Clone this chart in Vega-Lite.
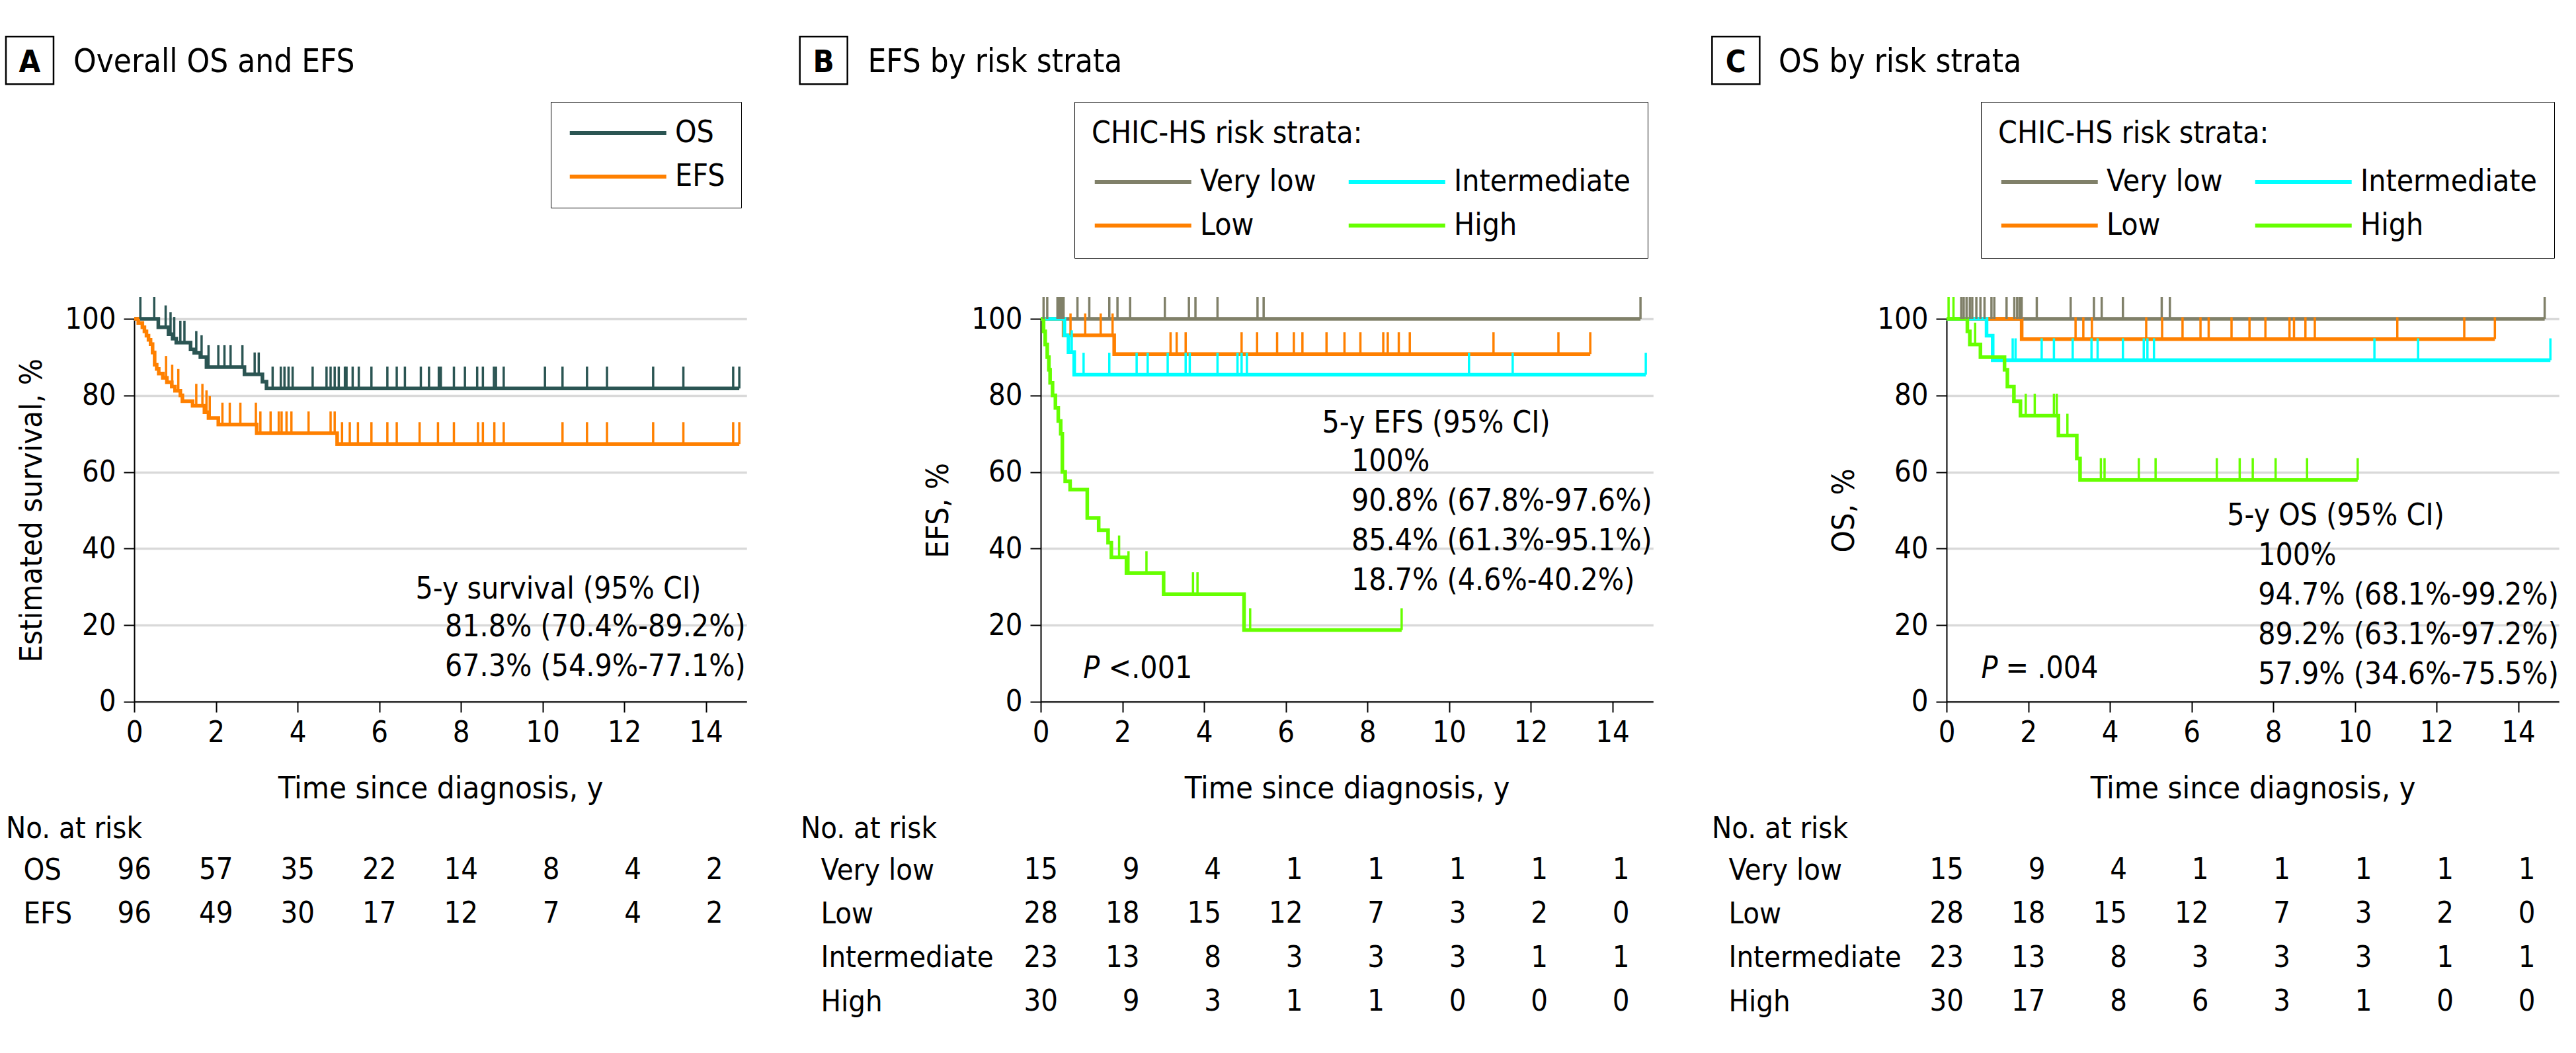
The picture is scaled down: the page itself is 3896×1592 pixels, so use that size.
{
  "$schema": "https://vega.github.io/schema/vega-lite/v6.json",
  "background": "white",
  "padding": {"left": 3, "top": 50, "right": 0, "bottom": 0},
  "autosize": {"type": "pad"},
  "datasets": {
    "A_curve": [
      {"series":"OS","t":0,"s":100},{"series":"OS","t":0.59,"s":97.8},{"series":"OS","t":0.84,"s":96.0},{"series":"OS","t":0.94,"s":94.8},{"series":"OS","t":1.03,"s":93.8},{"series":"OS","t":1.38,"s":92.0},{"series":"OS","t":1.47,"s":91.1},{"series":"OS","t":1.62,"s":90.0},{"series":"OS","t":1.77,"s":87.4},{"series":"OS","t":2.70,"s":85.5},{"series":"OS","t":3.14,"s":83.6},{"series":"OS","t":3.24,"s":81.8},{"series":"OS","t":14.82,"s":81.8},
      {"series":"EFS","t":0,"s":100},{"series":"EFS","t":0.1,"s":98.9},{"series":"EFS","t":0.2,"s":97.8},{"series":"EFS","t":0.25,"s":96.7},{"series":"EFS","t":0.3,"s":95.6},{"series":"EFS","t":0.35,"s":94.5},{"series":"EFS","t":0.4,"s":93.4},{"series":"EFS","t":0.45,"s":91.2},{"series":"EFS","t":0.5,"s":88.0},{"series":"EFS","t":0.55,"s":86.9},{"series":"EFS","t":0.6,"s":85.7},{"series":"EFS","t":0.7,"s":84.6},{"series":"EFS","t":0.8,"s":83.4},{"series":"EFS","t":0.92,"s":82.3},{"series":"EFS","t":1.0,"s":81.2},{"series":"EFS","t":1.13,"s":80.0},{"series":"EFS","t":1.18,"s":78.5},{"series":"EFS","t":1.43,"s":77.3},{"series":"EFS","t":1.72,"s":75.6},{"series":"EFS","t":1.82,"s":74.1},{"series":"EFS","t":2.06,"s":72.4},{"series":"EFS","t":3.0,"s":70.1},{"series":"EFS","t":4.97,"s":67.3},{"series":"EFS","t":14.82,"s":67.3}
    ],
    "A_cens": [
      {"series":"OS","t":0.15,"s":100},{"series":"OS","t":0.49,"s":100},{"series":"OS","t":0.77,"s":97.8},{"series":"OS","t":0.89,"s":96.0},{"series":"OS","t":0.98,"s":94.8},{"series":"OS","t":1.13,"s":93.8},{"series":"OS","t":1.23,"s":93.8},{"series":"OS","t":1.52,"s":91.1},{"series":"OS","t":1.65,"s":90.0},{"series":"OS","t":1.82,"s":87.4},{"series":"OS","t":2.06,"s":87.4},{"series":"OS","t":2.21,"s":87.4},{"series":"OS","t":2.36,"s":87.4},{"series":"OS","t":2.65,"s":87.4},{"series":"OS","t":2.95,"s":85.5},{"series":"OS","t":3.05,"s":85.5},
      {"series":"OS","t":3.39,"s":81.8},{"series":"OS","t":3.59,"s":81.8},{"series":"OS","t":3.68,"s":81.8},{"series":"OS","t":3.78,"s":81.8},{"series":"OS","t":3.88,"s":81.8},{"series":"OS","t":4.37,"s":81.8},{"series":"OS","t":4.71,"s":81.8},{"series":"OS","t":4.81,"s":81.8},{"series":"OS","t":4.91,"s":81.8},{"series":"OS","t":5.01,"s":81.8},{"series":"OS","t":5.16,"s":81.8},{"series":"OS","t":5.2,"s":81.8},{"series":"OS","t":5.35,"s":81.8},{"series":"OS","t":5.5,"s":81.8},{"series":"OS","t":5.81,"s":81.8},{"series":"OS","t":6.2,"s":81.8},{"series":"OS","t":6.43,"s":81.8},{"series":"OS","t":6.63,"s":81.8},{"series":"OS","t":7.02,"s":81.8},{"series":"OS","t":7.22,"s":81.8},{"series":"OS","t":7.46,"s":81.8},{"series":"OS","t":7.51,"s":81.8},{"series":"OS","t":7.83,"s":81.8},{"series":"OS","t":8.1,"s":81.8},{"series":"OS","t":8.4,"s":81.8},{"series":"OS","t":8.54,"s":81.8},{"series":"OS","t":8.81,"s":81.8},{"series":"OS","t":8.86,"s":81.8},{"series":"OS","t":9.05,"s":81.8},{"series":"OS","t":10.06,"s":81.8},{"series":"OS","t":10.49,"s":81.8},{"series":"OS","t":11.09,"s":81.8},{"series":"OS","t":11.58,"s":81.8},{"series":"OS","t":12.71,"s":81.8},{"series":"OS","t":13.45,"s":81.8},{"series":"OS","t":14.67,"s":81.8},{"series":"OS","t":14.82,"s":81.8},
      {"series":"EFS","t":0.78,"s":84.6},{"series":"EFS","t":0.93,"s":82.3},{"series":"EFS","t":1.08,"s":81.2},{"series":"EFS","t":1.52,"s":77.3},{"series":"EFS","t":1.67,"s":77.3},{"series":"EFS","t":1.77,"s":75.6},{"series":"EFS","t":1.85,"s":74.1},{"series":"EFS","t":2.16,"s":72.4},{"series":"EFS","t":2.34,"s":72.4},{"series":"EFS","t":2.6,"s":72.4},{"series":"EFS","t":2.98,"s":72.4},{"series":"EFS","t":3.09,"s":70.1},{"series":"EFS","t":3.34,"s":70.1},{"series":"EFS","t":3.54,"s":70.1},{"series":"EFS","t":3.61,"s":70.1},{"series":"EFS","t":3.73,"s":70.1},{"series":"EFS","t":3.85,"s":70.1},{"series":"EFS","t":4.27,"s":70.1},{"series":"EFS","t":4.81,"s":70.1},{"series":"EFS","t":4.91,"s":70.1},
      {"series":"EFS","t":5.09,"s":67.3},{"series":"EFS","t":5.28,"s":67.3},{"series":"EFS","t":5.48,"s":67.3},{"series":"EFS","t":5.81,"s":67.3},{"series":"EFS","t":6.2,"s":67.3},{"series":"EFS","t":6.43,"s":67.3},{"series":"EFS","t":6.99,"s":67.3},{"series":"EFS","t":7.44,"s":67.3},{"series":"EFS","t":7.83,"s":67.3},{"series":"EFS","t":8.42,"s":67.3},{"series":"EFS","t":8.54,"s":67.3},{"series":"EFS","t":8.82,"s":67.3},{"series":"EFS","t":9.05,"s":67.3},{"series":"EFS","t":10.49,"s":67.3},{"series":"EFS","t":11.09,"s":67.3},{"series":"EFS","t":11.58,"s":67.3},{"series":"EFS","t":12.71,"s":67.3},{"series":"EFS","t":13.45,"s":67.3},{"series":"EFS","t":14.67,"s":67.3},{"series":"EFS","t":14.82,"s":67.3}
    ],
    "B_curve": [
      {"stratum":"Very low","t":0,"s":100},{"stratum":"Very low","t":14.69,"s":100},
      {"stratum":"Low","t":0,"s":100},{"stratum":"Low","t":0.56,"s":95.7},{"stratum":"Low","t":1.8,"s":90.8},{"stratum":"Low","t":13.46,"s":90.8},
      {"stratum":"Intermediate","t":0,"s":100},{"stratum":"Intermediate","t":0.58,"s":95.7},{"stratum":"Intermediate","t":0.68,"s":91.3},{"stratum":"Intermediate","t":0.82,"s":85.4},{"stratum":"Intermediate","t":14.82,"s":85.4},
      {"stratum":"High","t":0,"s":100},{"stratum":"High","t":0.07,"s":96.7},{"stratum":"High","t":0.11,"s":93.3},{"stratum":"High","t":0.16,"s":90.0},{"stratum":"High","t":0.2,"s":86.7},{"stratum":"High","t":0.23,"s":83.3},{"stratum":"High","t":0.29,"s":80.0},{"stratum":"High","t":0.36,"s":76.7},{"stratum":"High","t":0.43,"s":73.3},{"stratum":"High","t":0.49,"s":70.0},{"stratum":"High","t":0.53,"s":60.0},{"stratum":"High","t":0.6,"s":57.6},{"stratum":"High","t":0.72,"s":55.4},{"stratum":"High","t":1.14,"s":48.0},{"stratum":"High","t":1.42,"s":44.8},{"stratum":"High","t":1.65,"s":41.5},{"stratum":"High","t":1.73,"s":37.7},{"stratum":"High","t":2.1,"s":33.6},{"stratum":"High","t":3.01,"s":28.1},{"stratum":"High","t":4.98,"s":18.7},{"stratum":"High","t":8.84,"s":18.7}
    ],
    "B_cens": [
      {"stratum":"Very low","t":0.07,"s":100},{"stratum":"Very low","t":0.16,"s":100},{"stratum":"Very low","t":0.41,"s":100},{"stratum":"Very low","t":0.46,"s":100},{"stratum":"Very low","t":0.51,"s":100},{"stratum":"Very low","t":0.56,"s":100},{"stratum":"Very low","t":0.9,"s":100},{"stratum":"Very low","t":1.19,"s":100},{"stratum":"Very low","t":1.68,"s":100},{"stratum":"Very low","t":1.88,"s":100},{"stratum":"Very low","t":2.19,"s":100},{"stratum":"Very low","t":3.04,"s":100},{"stratum":"Very low","t":3.63,"s":100},{"stratum":"Very low","t":3.79,"s":100},{"stratum":"Very low","t":4.33,"s":100},{"stratum":"Very low","t":5.31,"s":100},{"stratum":"Very low","t":5.46,"s":100},{"stratum":"Very low","t":14.69,"s":100},
      {"stratum":"Low","t":0.73,"s":95.7},{"stratum":"Low","t":1.09,"s":95.7},{"stratum":"Low","t":1.47,"s":95.7},{"stratum":"Low","t":1.76,"s":95.7},{"stratum":"Low","t":3.18,"s":90.8},{"stratum":"Low","t":3.33,"s":90.8},{"stratum":"Low","t":3.55,"s":90.8},{"stratum":"Low","t":4.92,"s":90.8},{"stratum":"Low","t":5.3,"s":90.8},{"stratum":"Low","t":5.79,"s":90.8},{"stratum":"Low","t":6.2,"s":90.8},{"stratum":"Low","t":6.41,"s":90.8},{"stratum":"Low","t":7.0,"s":90.8},{"stratum":"Low","t":7.44,"s":90.8},{"stratum":"Low","t":7.83,"s":90.8},{"stratum":"Low","t":8.39,"s":90.8},{"stratum":"Low","t":8.5,"s":90.8},{"stratum":"Low","t":8.77,"s":90.8},{"stratum":"Low","t":9.04,"s":90.8},{"stratum":"Low","t":11.09,"s":90.8},{"stratum":"Low","t":12.68,"s":90.8},{"stratum":"Low","t":13.46,"s":90.8},
      {"stratum":"Intermediate","t":0.76,"s":91.3},{"stratum":"Intermediate","t":1.05,"s":85.4},{"stratum":"Intermediate","t":1.68,"s":85.4},{"stratum":"Intermediate","t":2.35,"s":85.4},{"stratum":"Intermediate","t":2.62,"s":85.4},{"stratum":"Intermediate","t":3.11,"s":85.4},{"stratum":"Intermediate","t":3.55,"s":85.4},{"stratum":"Intermediate","t":3.65,"s":85.4},{"stratum":"Intermediate","t":4.33,"s":85.4},{"stratum":"Intermediate","t":4.82,"s":85.4},{"stratum":"Intermediate","t":4.92,"s":85.4},{"stratum":"Intermediate","t":5.05,"s":85.4},{"stratum":"Intermediate","t":10.49,"s":85.4},{"stratum":"Intermediate","t":11.56,"s":85.4},{"stratum":"Intermediate","t":14.82,"s":85.4},
      {"stratum":"High","t":1.92,"s":37.7},{"stratum":"High","t":2.15,"s":33.6},{"stratum":"High","t":2.59,"s":33.6},{"stratum":"High","t":3.73,"s":28.1},{"stratum":"High","t":3.84,"s":28.1},{"stratum":"High","t":5.13,"s":18.7},{"stratum":"High","t":8.84,"s":18.7}
    ],
    "C_curve": [
      {"stratum":"Very low","t":0,"s":100},{"stratum":"Very low","t":14.65,"s":100},
      {"stratum":"Low","t":0,"s":100},{"stratum":"Low","t":1.84,"s":94.7},{"stratum":"Low","t":13.43,"s":94.7},
      {"stratum":"Intermediate","t":0,"s":100},{"stratum":"Intermediate","t":0.98,"s":95.6},{"stratum":"Intermediate","t":1.13,"s":89.2},{"stratum":"Intermediate","t":14.79,"s":89.2},
      {"stratum":"High","t":0,"s":100},{"stratum":"High","t":0.51,"s":96.7},{"stratum":"High","t":0.57,"s":93.3},{"stratum":"High","t":0.83,"s":90.0},{"stratum":"High","t":1.42,"s":86.7},{"stratum":"High","t":1.49,"s":82.3},{"stratum":"High","t":1.65,"s":78.5},{"stratum":"High","t":1.81,"s":74.7},{"stratum":"High","t":2.74,"s":69.5},{"stratum":"High","t":3.19,"s":63.5},{"stratum":"High","t":3.27,"s":57.9},{"stratum":"High","t":10.07,"s":57.9}
    ],
    "C_cens": [
      {"stratum":"Very low","t":0.36,"s":100},{"stratum":"Very low","t":0.42,"s":100},{"stratum":"Very low","t":0.49,"s":100},{"stratum":"Very low","t":0.57,"s":100},{"stratum":"Very low","t":0.63,"s":100},{"stratum":"Very low","t":0.73,"s":100},{"stratum":"Very low","t":0.83,"s":100},{"stratum":"Very low","t":0.93,"s":100},{"stratum":"Very low","t":1.1,"s":100},{"stratum":"Very low","t":1.17,"s":100},{"stratum":"Very low","t":1.47,"s":100},{"stratum":"Very low","t":1.66,"s":100},{"stratum":"Very low","t":1.73,"s":100},{"stratum":"Very low","t":1.79,"s":100},{"stratum":"Very low","t":1.84,"s":100},{"stratum":"Very low","t":2.21,"s":100},{"stratum":"Very low","t":3.04,"s":100},{"stratum":"Very low","t":3.61,"s":100},{"stratum":"Very low","t":3.8,"s":100},{"stratum":"Very low","t":4.32,"s":100},{"stratum":"Very low","t":5.27,"s":100},{"stratum":"Very low","t":5.47,"s":100},{"stratum":"Very low","t":14.65,"s":100},
      {"stratum":"Low","t":3.16,"s":94.7},{"stratum":"Low","t":3.35,"s":94.7},{"stratum":"Low","t":3.56,"s":94.7},{"stratum":"Low","t":4.89,"s":94.7},{"stratum":"Low","t":5.28,"s":94.7},{"stratum":"Low","t":5.78,"s":94.7},{"stratum":"Low","t":6.22,"s":94.7},{"stratum":"Low","t":6.42,"s":94.7},{"stratum":"Low","t":6.98,"s":94.7},{"stratum":"Low","t":7.42,"s":94.7},{"stratum":"Low","t":7.81,"s":94.7},{"stratum":"Low","t":8.4,"s":94.7},{"stratum":"Low","t":8.51,"s":94.7},{"stratum":"Low","t":8.79,"s":94.7},{"stratum":"Low","t":9.02,"s":94.7},{"stratum":"Low","t":11.04,"s":94.7},{"stratum":"Low","t":12.68,"s":94.7},{"stratum":"Low","t":13.43,"s":94.7},
      {"stratum":"Intermediate","t":1.62,"s":89.2},{"stratum":"Intermediate","t":1.69,"s":89.2},{"stratum":"Intermediate","t":2.33,"s":89.2},{"stratum":"Intermediate","t":2.63,"s":89.2},{"stratum":"Intermediate","t":3.09,"s":89.2},{"stratum":"Intermediate","t":3.55,"s":89.2},{"stratum":"Intermediate","t":3.7,"s":89.2},{"stratum":"Intermediate","t":4.32,"s":89.2},{"stratum":"Intermediate","t":4.83,"s":89.2},{"stratum":"Intermediate","t":4.92,"s":89.2},{"stratum":"Intermediate","t":5.08,"s":89.2},{"stratum":"Intermediate","t":10.48,"s":89.2},{"stratum":"Intermediate","t":11.55,"s":89.2},{"stratum":"Intermediate","t":14.79,"s":89.2},
      {"stratum":"High","t":0.05,"s":100},{"stratum":"High","t":0.17,"s":100},{"stratum":"High","t":0.7,"s":93.3},{"stratum":"High","t":1.94,"s":74.7},{"stratum":"High","t":2.16,"s":74.7},{"stratum":"High","t":2.63,"s":74.7},{"stratum":"High","t":2.7,"s":74.7},{"stratum":"High","t":2.96,"s":69.5},{"stratum":"High","t":3.78,"s":57.9},{"stratum":"High","t":3.87,"s":57.9},{"stratum":"High","t":4.71,"s":57.9},{"stratum":"High","t":5.12,"s":57.9},{"stratum":"High","t":6.62,"s":57.9},{"stratum":"High","t":7.18,"s":57.9},{"stratum":"High","t":7.5,"s":57.9},{"stratum":"High","t":8.06,"s":57.9},{"stratum":"High","t":8.83,"s":57.9},{"stratum":"High","t":10.07,"s":57.9}
    ],
    "A_risk": [
      {"group":"OS","t":0,"n":96},{"group":"OS","t":2,"n":57},{"group":"OS","t":4,"n":35},{"group":"OS","t":6,"n":22},{"group":"OS","t":8,"n":14},{"group":"OS","t":10,"n":8},{"group":"OS","t":12,"n":4},{"group":"OS","t":14,"n":2},
      {"group":"EFS","t":0,"n":96},{"group":"EFS","t":2,"n":49},{"group":"EFS","t":4,"n":30},{"group":"EFS","t":6,"n":17},{"group":"EFS","t":8,"n":12},{"group":"EFS","t":10,"n":7},{"group":"EFS","t":12,"n":4},{"group":"EFS","t":14,"n":2}
    ],
    "B_risk": [
      {"group":"Very low","t":0,"n":15},{"group":"Very low","t":2,"n":9},{"group":"Very low","t":4,"n":4},{"group":"Very low","t":6,"n":1},{"group":"Very low","t":8,"n":1},{"group":"Very low","t":10,"n":1},{"group":"Very low","t":12,"n":1},{"group":"Very low","t":14,"n":1},
      {"group":"Low","t":0,"n":28},{"group":"Low","t":2,"n":18},{"group":"Low","t":4,"n":15},{"group":"Low","t":6,"n":12},{"group":"Low","t":8,"n":7},{"group":"Low","t":10,"n":3},{"group":"Low","t":12,"n":2},{"group":"Low","t":14,"n":0},
      {"group":"Intermediate","t":0,"n":23},{"group":"Intermediate","t":2,"n":13},{"group":"Intermediate","t":4,"n":8},{"group":"Intermediate","t":6,"n":3},{"group":"Intermediate","t":8,"n":3},{"group":"Intermediate","t":10,"n":3},{"group":"Intermediate","t":12,"n":1},{"group":"Intermediate","t":14,"n":1},
      {"group":"High","t":0,"n":30},{"group":"High","t":2,"n":9},{"group":"High","t":4,"n":3},{"group":"High","t":6,"n":1},{"group":"High","t":8,"n":1},{"group":"High","t":10,"n":0},{"group":"High","t":12,"n":0},{"group":"High","t":14,"n":0}
    ],
    "C_risk": [
      {"group":"Very low","t":0,"n":15},{"group":"Very low","t":2,"n":9},{"group":"Very low","t":4,"n":4},{"group":"Very low","t":6,"n":1},{"group":"Very low","t":8,"n":1},{"group":"Very low","t":10,"n":1},{"group":"Very low","t":12,"n":1},{"group":"Very low","t":14,"n":1},
      {"group":"Low","t":0,"n":28},{"group":"Low","t":2,"n":18},{"group":"Low","t":4,"n":15},{"group":"Low","t":6,"n":12},{"group":"Low","t":8,"n":7},{"group":"Low","t":10,"n":3},{"group":"Low","t":12,"n":2},{"group":"Low","t":14,"n":0},
      {"group":"Intermediate","t":0,"n":23},{"group":"Intermediate","t":2,"n":13},{"group":"Intermediate","t":4,"n":8},{"group":"Intermediate","t":6,"n":3},{"group":"Intermediate","t":8,"n":3},{"group":"Intermediate","t":10,"n":3},{"group":"Intermediate","t":12,"n":1},{"group":"Intermediate","t":14,"n":1},
      {"group":"High","t":0,"n":30},{"group":"High","t":2,"n":17},{"group":"High","t":4,"n":8},{"group":"High","t":6,"n":6},{"group":"High","t":8,"n":3},{"group":"High","t":10,"n":1},{"group":"High","t":12,"n":0},{"group":"High","t":14,"n":0}
    ]
  },
  "spacing": 83,
  "resolve": {"scale": {"x": "independent", "y": "independent", "color": "independent"}, "legend": {"color": "independent"}},
  "hconcat": [
    {
      "spacing": 74,
      "resolve": {"scale": {"x": "independent", "y": "independent", "color": "independent"}, "legend": {"color": "independent"}},
      "hconcat": [
        {
          "spacing": 15,
          "resolve": {"scale": {"x": "independent", "y": "independent", "color": "independent"}, "legend": {"color": "independent"}},
          "vconcat": [
            {
              "width": 926.25, "height": 578.8,
              "layer": [
                {"data": {"name": "A_curve"}, "mark": {"type": "line", "interpolate": "step-after", "strokeWidth": 5.5},
                 "encoding": {
                   "x": {"field": "t", "type": "quantitative", "scale": {"domain": [0, 15], "nice": false}, "axis": {"values": [0,2,4,6,8,10,12,14], "format": "d", "title": "Time since diagnosis, y", "grid": false}},
                   "y": {"field": "s", "type": "quantitative", "scale": {"domain": [0, 100], "nice": false}, "axis": {"values": [0,20,40,60,80,100], "format": "d", "title": "Estimated survival, %", "grid": true}},
                   "color": {"field": "series", "type": "nominal", "scale": {"domain": ["OS", "EFS"], "range": ["#2b5553", "#ff8000"]},
                     "legend": {"orient": "none", "legendX": 630, "legendY": -328, "title": null, "direction": "vertical", "symbolType": "M-1,0H7", "symbolSize": 1332, "symbolStrokeWidth": 6, "symbolOpacity": 1, "labelOffset": 118, "rowPadding": 20, "padding": 24, "strokeColor": "black", "labelFontSize": 46, "labelLimit": 1000}}
                 }},
                {"data": {"name": "A_cens"}, "mark": {"type": "tick", "orient": "vertical", "thickness": 3.5, "size": 33, "yOffset": -16.5, "opacity": 1},
                 "encoding": {"x": {"field": "t", "type": "quantitative"}, "y": {"field": "s", "type": "quantitative"}, "color": {"field": "series", "type": "nominal", "legend": null}}},
                {"data": {"values": [{}]}, "mark": {"type": "point", "shape": "square", "filled": false, "color": "black", "strokeWidth": 2.5, "size": 5184, "opacity": 1},
                 "encoding": {"x": {"datum": -2.559, "type": "quantitative"}, "y": {"datum": 167.5, "type": "quantitative"}}},
                {"data": {"values": [{}]}, "mark": {"type": "text", "text": "A", "fontWeight": "bold", "fontSize": 47, "align": "center", "baseline": "alphabetic"},
                 "encoding": {"x": {"datum": -2.559, "type": "quantitative"}, "y": {"datum": 164.5, "type": "quantitative"}}},
                {"data": {"values": [{}]}, "mark": {"type": "text", "text": "Overall OS and EFS", "fontSize": 49, "align": "left", "baseline": "alphabetic"},
                 "encoding": {"x": {"datum": -1.49, "type": "quantitative"}, "y": {"datum": 164.5, "type": "quantitative"}}},
                {"data": {"values": [{}]}, "mark": {"type": "text", "text": "5-y survival (95% CI)", "fontSize": 46, "align": "left", "baseline": "alphabetic"},
                 "encoding": {"x": {"datum": 6.89, "type": "quantitative"}, "y": {"datum": 27.0, "type": "quantitative"}}},
                {"data": {"values": [{}]}, "mark": {"type": "text", "text": ["81.8% (70.4%-89.2%)", "67.3% (54.9%-77.1%)"], "lineHeight": 59.6, "fontSize": 46, "align": "left", "baseline": "alphabetic"},
                 "encoding": {"x": {"datum": 7.61, "type": "quantitative"}, "y": {"datum": 17.0, "type": "quantitative"}}}
              ]
            },
            {
              "data": {"name": "A_risk"},
              "width": 926.25, "height": 132.6,
              "title": {"text": "No. at risk", "anchor": "start", "frame": "group", "dx": -194, "fontSize": 45, "fontWeight": "normal", "offset": 6},
              "mark": {"type": "text", "align": "right", "dx": 26, "fontSize": 45, "baseline": "middle", "color": "black"},
              "encoding": {
                "x": {"field": "t", "type": "quantitative", "scale": {"domain": [0, 15], "nice": false}, "axis": null},
                "y": {"field": "group", "type": "nominal", "sort": ["OS", "EFS"], "axis": {"title": null, "domain": false, "ticks": false, "tickSize": 0, "grid": false, "labelAlign": "left", "labelPadding": 168, "labelFontSize": 45, "labelLimit": 1000}},
                "text": {"field": "n", "type": "quantitative"}
              }
            }
          ]
        },
        {
          "spacing": 15,
          "resolve": {"scale": {"x": "independent", "y": "independent", "color": "independent"}, "legend": {"color": "independent"}},
          "vconcat": [
            {
              "width": 926.25, "height": 578.8,
              "layer": [
                {"data": {"name": "B_curve"}, "mark": {"type": "line", "interpolate": "step-after", "strokeWidth": 5.5},
                 "encoding": {
                   "x": {"field": "t", "type": "quantitative", "scale": {"domain": [0, 15], "nice": false}, "axis": {"values": [0,2,4,6,8,10,12,14], "format": "d", "title": "Time since diagnosis, y", "grid": false}},
                   "y": {"field": "s", "type": "quantitative", "scale": {"domain": [0, 100], "nice": false}, "axis": {"values": [0,20,40,60,80,100], "format": "d", "title": "EFS, %", "grid": true}},
                   "color": {"field": "stratum", "type": "nominal", "scale": {"domain": ["Very low", "Intermediate", "Low", "High"], "range": ["#808069", "#00ffff", "#ff8000", "#66ff00"]},
                     "legend": {"orient": "none", "legendX": 51, "legendY": -328, "title": "CHIC-HS risk strata:", "direction": "horizontal", "columns": 2, "values": ["Very low", "Intermediate", "Low", "High"], "symbolType": "M-1,0H7", "symbolSize": 1332, "symbolStrokeWidth": 6, "symbolOpacity": 1, "labelOffset": 118, "rowPadding": 20, "columnPadding": 36, "padding": 26, "strokeColor": "black", "labelFontSize": 46, "titleFontSize": 46, "titleFontWeight": "normal", "titlePadding": 26, "labelLimit": 1000, "titleLimit": 2000}}
                 }},
                {"data": {"name": "B_cens"}, "mark": {"type": "tick", "orient": "vertical", "thickness": 3.5, "size": 33, "yOffset": -16.5, "opacity": 1},
                 "encoding": {"x": {"field": "t", "type": "quantitative"}, "y": {"field": "s", "type": "quantitative"}, "color": {"field": "stratum", "type": "nominal", "legend": null}}},
                {"data": {"values": [{}]}, "mark": {"type": "point", "shape": "square", "filled": false, "color": "black", "strokeWidth": 2.5, "size": 5184, "opacity": 1},
                 "encoding": {"x": {"datum": -5.317, "type": "quantitative"}, "y": {"datum": 167.5, "type": "quantitative"}}},
                {"data": {"values": [{}]}, "mark": {"type": "text", "text": "B", "fontWeight": "bold", "fontSize": 47, "align": "center", "baseline": "alphabetic"},
                 "encoding": {"x": {"datum": -5.317, "type": "quantitative"}, "y": {"datum": 164.5, "type": "quantitative"}}},
                {"data": {"values": [{}]}, "mark": {"type": "text", "text": "EFS by risk strata", "fontSize": 49, "align": "left", "baseline": "alphabetic"},
                 "encoding": {"x": {"datum": -4.236, "type": "quantitative"}, "y": {"datum": 164.5, "type": "quantitative"}}},
                {"data": {"values": [{}]}, "mark": {"type": "text", "text": "5-y EFS (95% CI)", "fontSize": 46, "align": "left", "baseline": "alphabetic"},
                 "encoding": {"x": {"datum": 6.89, "type": "quantitative"}, "y": {"datum": 70.3, "type": "quantitative"}}},
                {"data": {"values": [{}]}, "mark": {"type": "text", "text": ["100%", "90.8% (67.8%-97.6%)", "85.4% (61.3%-95.1%)", "18.7% (4.6%-40.2%)"], "lineHeight": 60, "fontSize": 46, "align": "left", "baseline": "alphabetic"},
                 "encoding": {"x": {"datum": 7.61, "type": "quantitative"}, "y": {"datum": 60.3, "type": "quantitative"}}},
                {"data": {"values": [{}]}, "mark": {"type": "text", "text": "P", "fontStyle": "italic", "fontSize": 46, "align": "left", "baseline": "alphabetic"},
                 "encoding": {"x": {"datum": 1.04, "type": "quantitative"}, "y": {"datum": 6.2, "type": "quantitative"}}},
                {"data": {"values": [{}]}, "mark": {"type": "text", "text": "<.001", "fontSize": 46, "align": "left", "baseline": "alphabetic"},
                 "encoding": {"x": {"datum": 1.66, "type": "quantitative"}, "y": {"datum": 6.2, "type": "quantitative"}}}
              ]
            },
            {
              "data": {"name": "B_risk"},
              "width": 926.25, "height": 265.2,
              "title": {"text": "No. at risk", "anchor": "start", "frame": "group", "dx": -363, "fontSize": 45, "fontWeight": "normal", "offset": 6},
              "mark": {"type": "text", "align": "right", "dx": 26, "fontSize": 45, "baseline": "middle", "color": "black"},
              "encoding": {
                "x": {"field": "t", "type": "quantitative", "scale": {"domain": [0, 15], "nice": false}, "axis": null},
                "y": {"field": "group", "type": "nominal", "sort": ["Very low", "Low", "Intermediate", "High"], "axis": {"title": null, "domain": false, "ticks": false, "tickSize": 0, "grid": false, "labelAlign": "left", "labelPadding": 333, "labelFontSize": 45, "labelLimit": 1000}},
                "text": {"field": "n", "type": "quantitative"}
              }
            }
          ]
        }
      ]
    },
    {
      "spacing": 15,
      "resolve": {"scale": {"x": "independent", "y": "independent", "color": "independent"}, "legend": {"color": "independent"}},
      "vconcat": [
        {
          "width": 926.25, "height": 578.8,
          "layer": [
            {"data": {"name": "C_curve"}, "mark": {"type": "line", "interpolate": "step-after", "strokeWidth": 5.5},
             "encoding": {
               "x": {"field": "t", "type": "quantitative", "scale": {"domain": [0, 15], "nice": false}, "axis": {"values": [0,2,4,6,8,10,12,14], "format": "d", "title": "Time since diagnosis, y", "grid": false}},
               "y": {"field": "s", "type": "quantitative", "scale": {"domain": [0, 100], "nice": false}, "axis": {"values": [0,20,40,60,80,100], "format": "d", "title": "OS, %", "grid": true}},
               "color": {"field": "stratum", "type": "nominal", "scale": {"domain": ["Very low", "Intermediate", "Low", "High"], "range": ["#808069", "#00ffff", "#ff8000", "#66ff00"]},
                 "legend": {"orient": "none", "legendX": 52, "legendY": -328, "title": "CHIC-HS risk strata:", "direction": "horizontal", "columns": 2, "values": ["Very low", "Intermediate", "Low", "High"], "symbolType": "M-1,0H7", "symbolSize": 1332, "symbolStrokeWidth": 6, "symbolOpacity": 1, "labelOffset": 118, "rowPadding": 20, "columnPadding": 36, "padding": 26, "strokeColor": "black", "labelFontSize": 46, "titleFontSize": 46, "titleFontWeight": "normal", "titlePadding": 26, "labelLimit": 1000, "titleLimit": 2000}}
             }},
            {"data": {"name": "C_cens"}, "mark": {"type": "tick", "orient": "vertical", "thickness": 3.5, "size": 33, "yOffset": -16.5, "opacity": 1},
             "encoding": {"x": {"field": "t", "type": "quantitative"}, "y": {"field": "s", "type": "quantitative"}, "color": {"field": "stratum", "type": "nominal", "legend": null}}},
            {"data": {"values": [{}]}, "mark": {"type": "point", "shape": "square", "filled": false, "color": "black", "strokeWidth": 2.5, "size": 5184, "opacity": 1},
             "encoding": {"x": {"datum": -5.16, "type": "quantitative"}, "y": {"datum": 167.5, "type": "quantitative"}}},
            {"data": {"values": [{}]}, "mark": {"type": "text", "text": "C", "fontWeight": "bold", "fontSize": 47, "align": "center", "baseline": "alphabetic"},
             "encoding": {"x": {"datum": -5.16, "type": "quantitative"}, "y": {"datum": 164.5, "type": "quantitative"}}},
            {"data": {"values": [{}]}, "mark": {"type": "text", "text": "OS by risk strata", "fontSize": 49, "align": "left", "baseline": "alphabetic"},
             "encoding": {"x": {"datum": -4.115, "type": "quantitative"}, "y": {"datum": 164.5, "type": "quantitative"}}},
            {"data": {"values": [{}]}, "mark": {"type": "text", "text": "5-y OS (95% CI)", "fontSize": 46, "align": "left", "baseline": "alphabetic"},
             "encoding": {"x": {"datum": 6.87, "type": "quantitative"}, "y": {"datum": 46.1, "type": "quantitative"}}},
            {"data": {"values": [{}]}, "mark": {"type": "text", "text": ["100%", "94.7% (68.1%-99.2%)", "89.2% (63.1%-97.2%)", "57.9% (34.6%-75.5%)"], "lineHeight": 60, "fontSize": 46, "align": "left", "baseline": "alphabetic"},
             "encoding": {"x": {"datum": 7.63, "type": "quantitative"}, "y": {"datum": 35.8, "type": "quantitative"}}},
            {"data": {"values": [{}]}, "mark": {"type": "text", "text": "P", "fontStyle": "italic", "fontSize": 46, "align": "left", "baseline": "alphabetic"},
             "encoding": {"x": {"datum": 0.85, "type": "quantitative"}, "y": {"datum": 6.1, "type": "quantitative"}}},
            {"data": {"values": [{}]}, "mark": {"type": "text", "text": "= .004", "fontSize": 46, "align": "left", "baseline": "alphabetic"},
             "encoding": {"x": {"datum": 1.45, "type": "quantitative"}, "y": {"datum": 6.1, "type": "quantitative"}}}
          ]
        },
        {
          "data": {"name": "C_risk"},
          "width": 926.25, "height": 265.2,
          "title": {"text": "No. at risk", "anchor": "start", "frame": "group", "dx": -355, "fontSize": 45, "fontWeight": "normal", "offset": 6},
          "mark": {"type": "text", "align": "right", "dx": 26, "fontSize": 45, "baseline": "middle", "color": "black"},
          "encoding": {
            "x": {"field": "t", "type": "quantitative", "scale": {"domain": [0, 15], "nice": false}, "axis": null},
            "y": {"field": "group", "type": "nominal", "sort": ["Very low", "Low", "Intermediate", "High"], "axis": {"title": null, "domain": false, "ticks": false, "tickSize": 0, "grid": false, "labelAlign": "left", "labelPadding": 330, "labelFontSize": 45, "labelLimit": 1000}},
            "text": {"field": "n", "type": "quantitative"}
          }
        }
      ]
    }
  ],
  "config": {
    "font": "DejaVu Sans Condensed, DejaVu Sans, sans-serif",
    "view": {"stroke": null},
    "axis": {"labelFontSize": 45, "titleFontSize": 47, "titleFontWeight": "normal", "labelColor": "black", "titleColor": "black", "tickColor": "black", "domainColor": "black", "tickSize": 16, "tickWidth": 2, "domainWidth": 2, "gridColor": "#d9d9d9", "gridWidth": 3.5, "labelFlush": false, "labelOverlap": false},
    "axisX": {"labelPadding": 9, "titlePadding": 39},
    "axisY": {"labelPadding": 12, "titlePadding": 25},
    "text": {"color": "black"},
    "title": {"color": "black"}
  }
}
